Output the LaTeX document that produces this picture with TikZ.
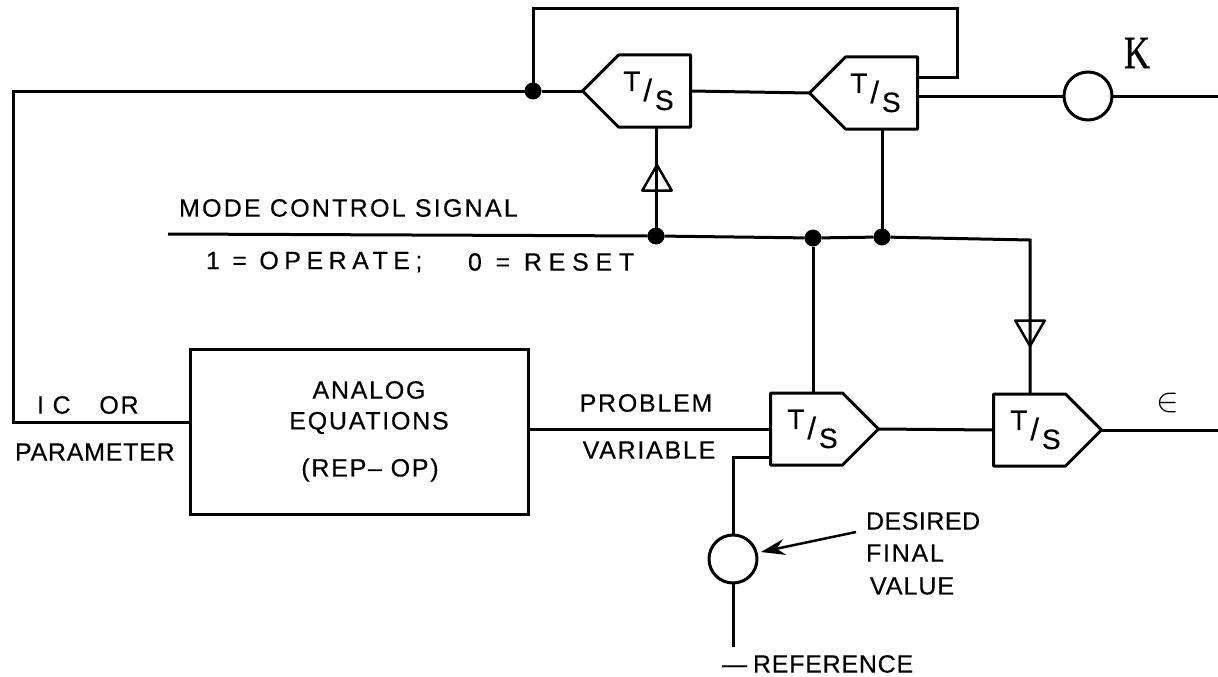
\documentclass[tikz,border=0pt]{standalone}
\usepackage{fontspec}
\setmainfont{Liberation Sans}[FakeBold=0.35]
\newfontfamily\kfont{Liberation Serif}[FakeBold=0.8]
\usetikzlibrary{positioning,shapes.symbols,shapes.geometric,arrows.meta}

\newcommand{\tslabel}{\raisebox{7pt}{T}\hspace{3pt}\raisebox{-3pt}{\fontsize{31}{32}\selectfont/}\hspace{3pt}\raisebox{-12pt}{S}}

\begin{document}
\begin{tikzpicture}[
    x=1pt,
    y=-1pt,
    line width=3pt,
    node distance=119pt,
    every node/.style={outer sep=0pt},
    tsbox/.style={
        draw,
        shape=signal,
        signal from=nowhere,
        signal pointer angle=90,
        minimum width=108pt,
        minimum height=72pt,
        inner sep=0pt,
        line join=round,
        font=\fontsize{28}{30}\selectfont
    },
    jct/.style={circle, fill=black, draw=none, minimum size=17pt, inner sep=0pt},
    sumcirc/.style={circle, draw, minimum size=48pt, inner sep=0pt},
    tip/.style={draw, regular polygon, regular polygon sides=3, minimum size=34pt, inner sep=0pt, line width=2.5pt, line join=round},
    lbl/.style={inner sep=0pt, anchor=west, font=\fontsize{25}{30}\selectfont\addfontfeature{LetterSpace=7}},
    arrow/.style={-{Stealth[length=24pt,width=16pt,inset=8pt]}, line width=2.5pt}
]
\useasboundingbox (0,0) rectangle (1218,677);

\node (ts1) [tsbox, signal to=west] at (654.5,91) {\hspace{-12pt}\tslabel};
\node (ts2) [tsbox, signal to=west, right=of ts1.east, anchor=west, yshift=-2pt] {\hspace{-12pt}\tslabel};
\node (ts3) [tsbox, signal to=east] at (806.5,429) {\hspace{12pt}\tslabel};
\node (ts4) [tsbox, signal to=east, right=115pt of ts3.east, anchor=west, yshift=-1pt] {\hspace{12pt}\tslabel};

\node (box) [draw, minimum width=338pt, minimum height=165pt] at (359,432) {};
\node (analog) [lbl, anchor=center] at (369,390) {ANALOG};
\node (equations) [lbl, anchor=center] at (369,423) {EQUATIONS};
\node (repop) [lbl, anchor=center] at (370,470) {(REP-- OP)};

\node (jfb) [jct] at (533,91) {};
\node (jm1) [jct] at (656,236) {};
\node (jm2) [jct] at (813,238) {};
\node (jm3) [jct] at (882,237) {};

\node (sumk) [sumcirc] at (1088,96) {};
\node (sumref) [sumcirc] at (733,559) {};

\node (tip1) [tip] at (657,182) {};
\node (tip2) [tip, shape border rotate=180] at (1030,329) {};

\coordinate (looptop) at (957,9);
\coordinate (loopin) at (ts2.east |- 0,78);
\coordinate (leftcorner) at (13,422);
\coordinate (icin) at (190,422);
\coordinate (modestart) at (168,234);
\coordinate (modecorner) at (1030,240);
\coordinate (kout) at (1218,96);
\coordinate (eout) at (1218,430);
\coordinate (refin) at (771,457);
\coordinate (refend) at (733,647);
\coordinate (arrowstart) at (856,532);
\coordinate (arrowend) at (761,552);

% top row
\draw (jfb) |- (looptop) |- (loopin);
\draw (jfb) -- (ts1.west);
\draw (ts1.east) -- (ts2.west);
\draw (ts2.east |- sumk) -- (sumk);
\draw (sumk) -- (kout);
\draw (jfb) -| (leftcorner) -- (icin);

% mode control
\draw (modestart) -- (jm1);
\draw (jm1) -- (jm2);
\draw (jm2) -- (jm3);
\draw (jm3) -- (modecorner) -- (ts4.north -| modecorner);
\draw (jm1) -- (ts1.south -| jm1);
\draw (jm2) -- (ts3.north -| jm2);
\draw (jm3) -- (ts2.south -| jm3);

% bottom row
\draw (box.east |- ts3.west) -- (ts3.west);
\draw (ts3.east) -- (ts4.west);
\draw (ts4.east) -- (eout);
\draw (refin) -| (sumref);
\draw (sumref) -- (refend);
\draw[arrow] (arrowstart) -- (arrowend);

\node (k) [inner sep=0pt, font=\fontsize{44}{48}\selectfont\kfont] at (1137,53) {\scalebox{.82}[1.05]{K}};
\node (eps) [inner sep=0pt] at (1168,403) {\scalebox{3.4}{$\in$}};
\node (mode) [lbl, font=\fontsize{25}{30}\selectfont\addfontfeature{LetterSpace=9}] at (179,208) {MODE CONTROL SIGNAL};
\node (oper) [lbl, font=\fontsize{25}{30}\selectfont\addfontfeature{LetterSpace=22}] at (206,262) {1 = OPERATE;};
\node (reset) [lbl, font=\fontsize{25}{30}\selectfont\addfontfeature{LetterSpace=27}] at (468,262) {0 = RESET};
\node (ic) [lbl] at (37,405) {I C\hspace{20pt} OR};
\node (param) [lbl, font=\fontsize{25}{30}\selectfont\addfontfeature{LetterSpace=3}] at (15,452) {PARAMETER};
\node (problem) [lbl, anchor=center] at (646,403) {PROBLEM};
\node (variable) [lbl, anchor=center] at (649,450) {VARIABLE};
\node (desired) [lbl, font=\fontsize{25}{30}\selectfont\addfontfeature{LetterSpace=2}] at (866,521) {DESIRED};
\node (final) [lbl] at (866,553) {FINAL};
\node (value) [lbl, font=\fontsize{25}{30}\selectfont\addfontfeature{LetterSpace=4}] at (870,586) {VALUE};
\node (reference) [lbl, font=\fontsize{25}{30}\selectfont\addfontfeature{LetterSpace=3}] at (722,664) {---\hspace{6pt}REFERENCE};

\end{tikzpicture}
\end{document}
